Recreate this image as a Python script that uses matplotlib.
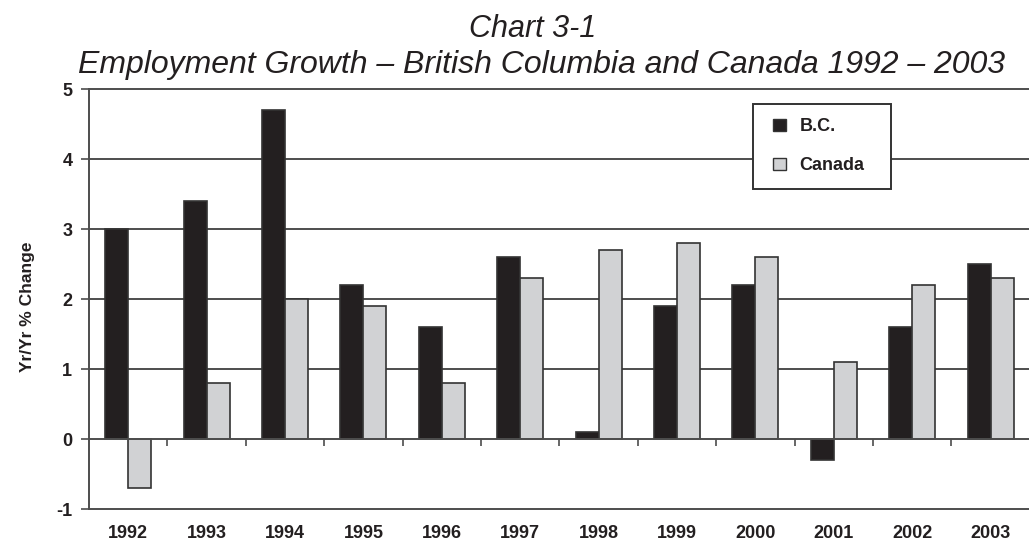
import matplotlib
matplotlib.use("Agg")
import matplotlib.pyplot as plt
import numpy as np
from matplotlib.patches import Patch, Rectangle
from matplotlib.legend_handler import HandlerPatch
from matplotlib.ticker import FixedLocator

# Annual employment growth, % change year over year
years = ["1992", "1993", "1994", "1995", "1996", "1997",
         "1998", "1999", "2000", "2001", "2002", "2003"]
bc = [3.0, 3.4, 4.7, 2.2, 1.6, 2.6, 0.1, 1.9, 2.2, -0.3, 1.6, 2.5]
canada = [-0.7, 0.8, 2.0, 1.9, 0.8, 2.3, 2.7, 2.8, 2.6, 1.1, 2.2, 2.3]
series_names = ["B.C.", "Canada"]
y_ticks = [-1, 0, 1, 2, 3, 4, 5]

W, H = 1029, 545
plt.rcParams["font.family"] = ["Liberation Sans", "DejaVu Sans"]

fig = plt.figure(figsize=(W / 100, H / 100), dpi=100)
ax = fig.add_axes([89 / W, (H - 509) / H, (W - 89) / W, 420 / H])

dark = "#231f20"
light = "#d1d2d4"
edge = "#333333"
grid_c = "#4d4d4d"
text_c = "#231f20"

x = np.arange(len(years))
bw = 0.293
ax.bar(x - bw / 2, bc, bw, color=dark, edgecolor=edge, linewidth=1.2, zorder=3)
ax.bar(x + bw / 2, canada, bw, color=light, edgecolor=edge, linewidth=1.2, zorder=3)

ax.set_xlim(-0.5, 11.49)
ax.set_ylim(-1, 5)

# horizontal gridlines
for v in y_ticks:
    if v != 0:
        ax.axhline(v, color=grid_c, linewidth=1.4, zorder=1, clip_on=False)

for s in ["top", "right"]:
    ax.spines[s].set_visible(False)
ax.spines["bottom"].set_position(("data", 0))
ax.spines["bottom"].set_color(grid_c)
ax.spines["bottom"].set_linewidth(1.4)
ax.spines["bottom"].set_zorder(4)
ax.spines["left"].set_color(grid_c)
ax.spines["left"].set_linewidth(1.4)

ax.set_yticks(y_ticks)
ax.set_yticklabels([str(v) for v in y_ticks], fontsize=13, fontweight="bold", color=text_c)
ax.tick_params(axis="y", direction="out", length=6, width=1.2, color=grid_c, pad=6)

ax.set_xticks(x)
ax.set_xticklabels(years, fontsize=13, fontweight="bold", color=text_c)
ax.xaxis.set_minor_locator(FixedLocator(np.arange(0.5, 11, 1.0)))
ax.tick_params(axis="x", which="major", length=0, pad=62)
ax.tick_params(axis="x", which="minor", direction="out", length=5, width=1.2, color=grid_c)

ax.set_ylabel("Yr/Yr % Change", fontsize=12.5, fontweight="bold", color=text_c)
ax.yaxis.set_label_coords(35 / W, (H - 307) / H, transform=fig.transFigure)

fig.text(533 / W, 1 - 37 / H, "Chart 3-1", ha="center", va="baseline",
         fontsize=22, style="italic", color=text_c)
fig.text(541 / W, 1 - 73 / H,
         "Employment Growth \u2013 British Columbia and Canada 1992 \u2013 2003",
         ha="center", va="baseline", fontsize=23, style="italic", color=text_c)


def right_square(legend, orig_handle, xdescent, ydescent, width, height, fontsize):
    # square swatch placed at the right end of the handle area
    return Rectangle((-xdescent + width - height, -ydescent), height, height)


handles = [Patch(facecolor=dark, edgecolor=edge, linewidth=1.0),
           Patch(facecolor=light, edgecolor=edge, linewidth=1.0)]
leg = fig.legend(handles, series_names, loc="upper left",
                 bbox_to_anchor=(753 / W, 1 - 188 / H, 138 / W, 84 / H),
                 mode="expand", borderaxespad=0,
                 fancybox=False, framealpha=1, edgecolor=edge,
                 prop={"size": 13, "weight": "bold"},
                 handler_map={Patch: HandlerPatch(patch_func=right_square)},
                 handlelength=1.0, handleheight=0.67, handletextpad=0.78,
                 labelspacing=1.2, borderpad=0.8)
leg.get_frame().set_linewidth(1.4)
for t in leg.get_texts():
    t.set_color(text_c)
leg.set_zorder(10)

fig.savefig("out.png", dpi=100)
